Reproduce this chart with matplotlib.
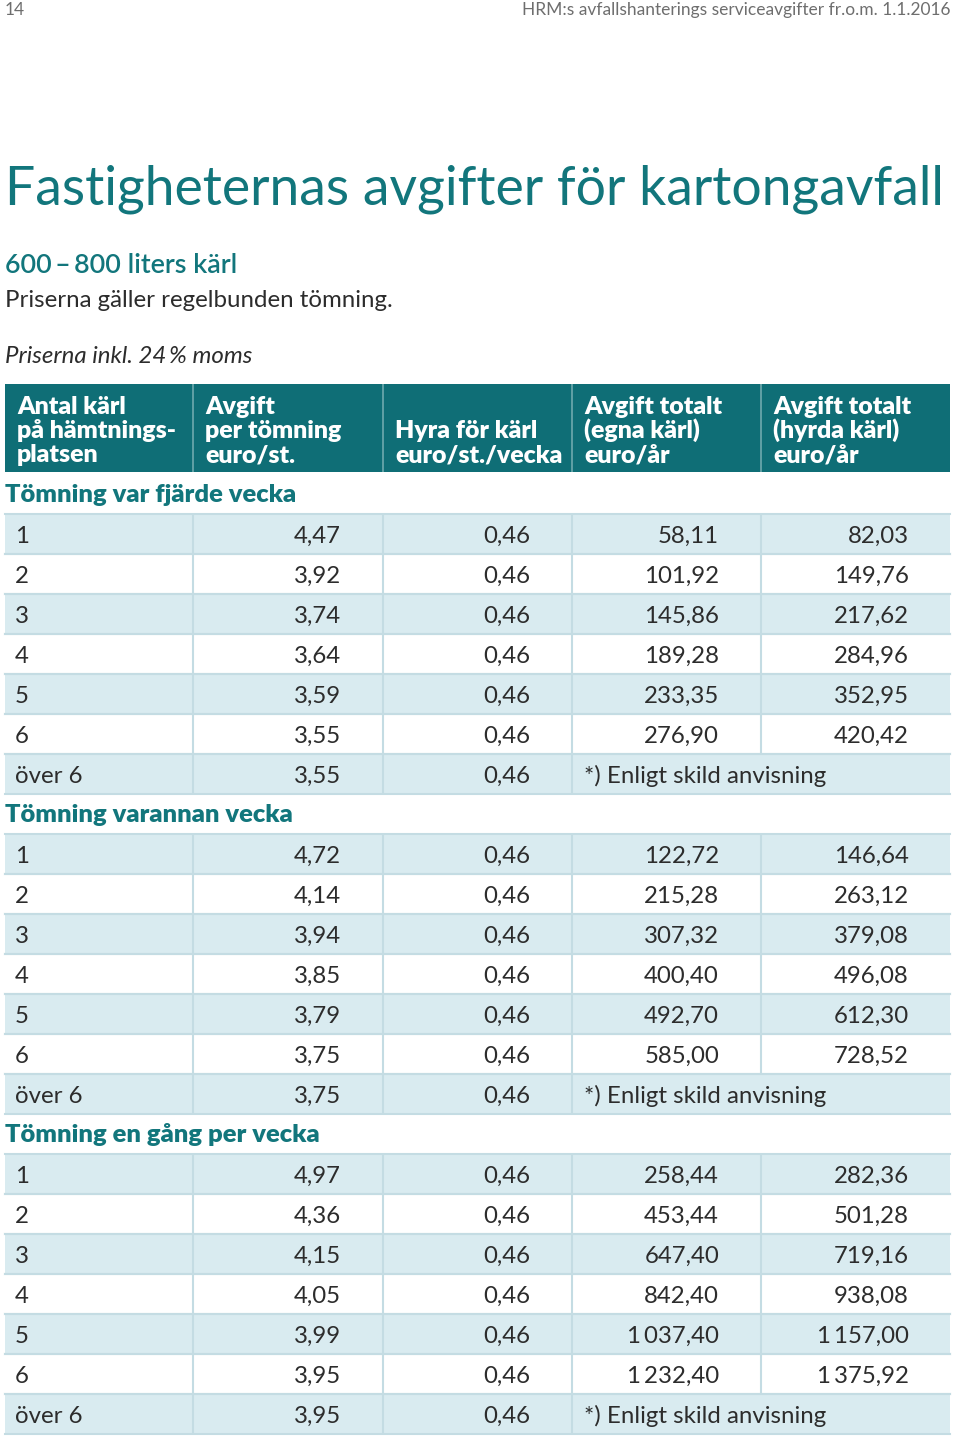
import matplotlib
matplotlib.use("Agg")
import matplotlib.pyplot as plt
from matplotlib.patches import Rectangle

# ---------------- data ----------------
page_number = "14"
page_header = "HRM:s avfallshanterings serviceavgifter fr.o.m. 1.1.2016"
title = "Fastigheternas avgifter för kartongavfall"
subtitle = "600\u2009–\u2009800 liters kärl"
note1 = "Priserna gäller regelbunden tömning."
note2 = "Priserna inkl. 24\u2009% moms"

col_headers = [
    ["Antal kärl", "på hämtnings-", "platsen"],
    ["Avgift", "per tömning", "euro/st."],
    ["Hyra för kärl", "euro/st./vecka"],
    ["Avgift totalt", "(egna kärl)", "euro/år"],
    ["Avgift totalt", "(hyrda kärl)", "euro/år"],
]

sections = ["Tömning var fjärde vecka", "Tömning varannan vecka", "Tömning en gång per vecka"]
antal_karl = ["1", "2", "3", "4", "5", "6", "över 6"]

per_tomning_4v = [4.47, 3.92, 3.74, 3.64, 3.59, 3.55, 3.55]
per_tomning_2v = [4.72, 4.14, 3.94, 3.85, 3.79, 3.75, 3.75]
per_tomning_1v = [4.97, 4.36, 4.15, 4.05, 3.99, 3.95, 3.95]

hyra_4v = [0.46] * 7
hyra_2v = [0.46] * 7
hyra_1v = [0.46] * 7

egna_4v = [58.11, 101.92, 145.86, 189.28, 233.35, 276.90]
egna_2v = [122.72, 215.28, 307.32, 400.40, 492.70, 585.00]
egna_1v = [258.44, 453.44, 647.40, 842.40, 1037.40, 1232.40]

hyrda_4v = [82.03, 149.76, 217.62, 284.96, 352.95, 420.42]
hyrda_2v = [146.64, 263.12, 379.08, 496.08, 612.30, 728.52]
hyrda_1v = [282.36, 501.28, 719.16, 938.08, 1157.00, 1375.92]

over6_note = "*) Enligt skild anvisning"

per_tomning = [per_tomning_4v, per_tomning_2v, per_tomning_1v]
hyra = [hyra_4v, hyra_2v, hyra_1v]
egna = [egna_4v, egna_2v, egna_1v]
hyrda = [hyrda_4v, hyrda_2v, hyrda_1v]

# ---------------- style ----------------
TEAL_HDR = "#0f6e76"
TEAL_TXT = "#12767c"
LIGHT = "#d9ebf0"
LINE = "#c4dce3"
TXT = "#2c2c2c"
FONT = ["Lato", "DejaVu Sans"]

W, H = 960, 1439
fig = plt.figure(figsize=(W / 100, H / 100), dpi=100)
ax = fig.add_axes([0, 0, 1, 1])
ax.set_xlim(0, W)
ax.set_ylim(H, 0)
ax.axis("off")
renderer = fig.canvas.get_renderer()


def fit_size(text, target_w, **kw):
    t = ax.text(0, 0, text, fontsize=20, **kw)
    w = t.get_window_extent(renderer).width
    t.remove()
    return 20 * target_w / w


def fmt(v):
    s = f"{v:,.2f}"
    return s.replace(",", "\u2009").replace(".", ",")


# ---------------- page texts ----------------
hs = fit_size(page_header, 430, family=FONT)
ax.text(5, 10, page_number, fontsize=hs, family=FONT,
        color="#6e6e6e", va="center", ha="left")
ax.text(950, 10, page_header, fontsize=hs, family=FONT,
        color="#6e6e6e", va="center", ha="right")

ts = fit_size(title, 943, family=FONT, weight="normal")
ax.text(5, 205, title, fontsize=ts, family=FONT, weight="normal", color=TEAL_TXT,
        va="baseline", ha="left")

ss = fit_size(subtitle, 233, family=FONT, weight="semibold")
ax.text(5, 273, subtitle, fontsize=ss, family=FONT, weight="semibold", color=TEAL_TXT,
        va="baseline", ha="left")
ns = fit_size(note1, 388, family=FONT, weight="normal")
ax.text(5, 307, note1, fontsize=ns, family=FONT, weight="normal", color=TXT,
        va="baseline", ha="left")
ax.text(5, 363, note2, fontsize=ns, family=FONT, weight="normal", style="italic",
        color=TXT, va="baseline", ha="left")

# ---------------- table geometry ----------------
col_edges = [5, 193, 383, 572, 761, 950]
hdr_top, hdr_bot = 384, 472
slot_top0, pitch = 474, 40

# header
ax.add_patch(Rectangle((col_edges[0], hdr_top), col_edges[-1] - col_edges[0],
                       hdr_bot - hdr_top, facecolor=TEAL_HDR, edgecolor="none"))
for x in col_edges[1:-1]:
    ax.plot([x, x], [hdr_top, hdr_bot], color="#6fa9ae", lw=1.2, solid_capstyle="butt")
hsz = fit_size("på hämtnings-", 160, family=FONT, weight="heavy")
base_lines = [414, 438, 462]
for c, lines in enumerate(col_headers):
    n = len(lines)
    for i, line in enumerate(lines):
        y = base_lines[3 - n + i]
        ax.text(col_edges[c] + 12, y, line, fontsize=hsz, family=FONT, weight="heavy",
                color="white", va="baseline", ha="left")

sec_size = fit_size(sections[2], 314, family=FONT, weight="heavy")
body_size = fit_size(over6_note, 242, family=FONT, weight="normal")

slot = 0
for s, sec in enumerate(sections):
    top = slot_top0 + slot * pitch
    ax.text(5, top + 28, sec, fontsize=sec_size, family=FONT, weight="heavy",
            color=TEAL_TXT, va="baseline", ha="left")
    slot += 1
    for r, label in enumerate(antal_karl):
        top = slot_top0 + slot * pitch
        bot = top + pitch
        if r % 2 == 0:
            ax.add_patch(Rectangle((col_edges[0], top), col_edges[-1] - col_edges[0], pitch,
                                   facecolor=LIGHT, edgecolor="none", zorder=0))
        ax.plot([col_edges[0], col_edges[-1]], [top, top], color=LINE, lw=1.5, zorder=1)
        ax.plot([col_edges[0], col_edges[-1]], [bot, bot], color=LINE, lw=1.5, zorder=1)
        over = r == len(antal_karl) - 1
        vlines = col_edges[1:4] if over else col_edges[1:5]
        for x in vlines:
            ax.plot([x, x], [top, bot], color=LINE, lw=1.5, zorder=1, solid_capstyle="butt")
        yb = top + 29
        kw = dict(fontsize=body_size, family=FONT, weight="normal", color=TXT,
                  va="baseline", zorder=3)
        ax.text(col_edges[0] + 10, yb, label, ha="left", **kw)
        ax.text(col_edges[2] - 42, yb, fmt(per_tomning[s][r]), ha="right", **kw)
        ax.text(col_edges[3] - 42, yb, fmt(hyra[s][r]), ha="right", **kw)
        if over:
            ax.text(col_edges[3] + 12, yb, over6_note, ha="left", **kw)
        else:
            ax.text(col_edges[4] - 42, yb, fmt(egna[s][r]), ha="right", **kw)
            ax.text(col_edges[5] - 41, yb, fmt(hyrda[s][r]), ha="right", **kw)
        slot += 1

fig.savefig("out.png", dpi=100, facecolor="white")
